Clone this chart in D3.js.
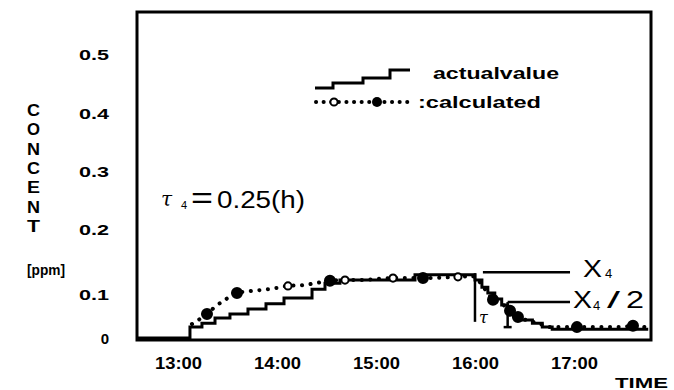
<!DOCTYPE html>
<html><head><meta charset="utf-8">
<script src="https://cdn.jsdelivr.net/npm/d3@7"></script>
<style>body{margin:0;background:#fff}svg{display:block}text{fill:#000}</style>
</head><body><svg id="c" width="674" height="390"></svg>
<script>
// ---- data ----
const xTicks = [13, 14, 15, 16, 17];
const xTickLabels = ["13:00", "14:00", "15:00", "16:00", "17:00"];
const yTicks = [0, 0.1, 0.2, 0.3, 0.4, 0.5];
const yTickLabels = ["0", "0.1", "0.2", "0.3", "0.4", "0.5"];

// actual value (step line), time in hours
const actualTime  = [12.586, 13.121, 13.242, 13.374, 13.525, 13.707, 13.889, 14.071, 14.354, 14.485, 14.636, 15.394,
                     16.0, 16.07, 16.13, 16.2, 16.27, 16.33, 16.39, 16.47, 16.58, 16.68, 16.78, 17.75];
const actualValue = [0.002, 0.027, 0.036, 0.048, 0.057, 0.068, 0.080, 0.093, 0.109, 0.118, 0.123, 0.131,
                     0.123, 0.112, 0.103, 0.091, 0.077, 0.064, 0.052, 0.043, 0.036, 0.027, 0.022, 0.022];

// calculated (dotted line)
const calcTime  = [13.141, 13.293, 13.374, 13.475, 13.596, 13.727, 13.859, 14.0, 14.111, 14.253, 14.384, 14.535,
                   14.687, 14.838, 15.172, 15.475, 15.828, 15.970, 16.030, 16.101, 16.182, 16.273, 16.354, 16.434,
                   16.556, 16.657, 16.758, 16.889, 17.030, 17.192, 17.333, 17.465, 17.596, 17.717];
const calcValue = [0.034, 0.057, 0.073, 0.089, 0.103, 0.106, 0.108, 0.111, 0.114, 0.115, 0.118, 0.122,
                   0.123, 0.123, 0.126, 0.126, 0.128, 0.129, 0.123, 0.109, 0.089, 0.080, 0.064, 0.050,
                   0.041, 0.034, 0.027, 0.027, 0.027, 0.027, 0.027, 0.027, 0.030, 0.027];
const calcMarker = ["", "f", "", "", "f", "", "", "", "o", "", "", "f",
                    "o", "", "o", "f", "o", "", "", "", "f", "", "f", "f",
                    "", "", "", "", "f", "", "", "", "f", ""];

// annotations
const tauStart = 16.0, tauEnd = 16.33;
const x4Level = 0.135, x4HalfLevel = 0.084;
const x4LineStart = 16.08, x4LineEnd = 16.96;
const tauBottom = 0.039, tauEndBottom = 0.027;

// ---- drawing ----
const FONT = "'Liberation Sans', Arial, sans-serif";
const svg = d3.select("#c");
const x = d3.scaleLinear().domain([12.586, 17.778]).range([137, 651]);
const y = d3.scaleLinear().domain([0, 0.1, 0.2, 0.5]).range([339, 295, 230, 55]);

// frame
svg.append("rect").attr("x", 137).attr("y", 12).attr("width", 514).attr("height", 328)
  .attr("fill", "none").attr("stroke", "#000").attr("stroke-width", 3);

// y axis labels
const yAxis = svg.append("g").attr("transform", "translate(137,0)")
  .call(d3.axisLeft(y).tickValues(yTicks).tickFormat((d, i) => yTickLabels[i]).tickSize(0).tickPadding(28));
yAxis.select(".domain").remove();
yAxis.selectAll("text").attr("font-family", FONT).attr("font-weight", "bold").attr("font-size", 15)
  .attr("fill", "#000")
  .each(function (d, i) { const t = yTickLabels[i]; if (t.length > 1) d3.select(this).attr("textLength", 30).attr("lengthAdjust", "spacingAndGlyphs"); });

// x axis labels
const xAxis = svg.append("g").attr("transform", "translate(0,340)")
  .call(d3.axisBottom(x).tickValues(xTicks).tickFormat((d, i) => xTickLabels[i]).tickSize(0).tickPadding(18));
xAxis.select(".domain").remove();
xAxis.selectAll("text").attr("font-family", FONT).attr("font-weight", "bold").attr("font-size", 16)
  .attr("fill", "#000").attr("textLength", 47).attr("lengthAdjust", "spacingAndGlyphs");

svg.append("text").attr("x", 668).attr("y", 388).attr("text-anchor", "end")
  .attr("font-family", FONT).attr("font-weight", "bold").attr("font-size", 15)
  .attr("textLength", 53).attr("lengthAdjust", "spacingAndGlyphs").text("TIME");

// y title (vertical stacked letters)
const yTitle = "CONCENT".split("");
svg.append("g").selectAll("text").data(yTitle).join("text")
  .attr("x", 27).attr("y", (d, i) => 116 + i * 19.3)
  .attr("font-family", FONT).attr("font-weight", "bold").attr("font-size", 16)
  .attr("textLength", 13).attr("lengthAdjust", "spacingAndGlyphs").text(d => d);
svg.append("text").attr("x", 46).attr("y", 275).attr("text-anchor", "middle")
  .attr("font-family", FONT).attr("font-weight", "bold").attr("font-size", 14)
  .attr("textLength", 38).attr("lengthAdjust", "spacingAndGlyphs").text("[ppm]");

// actual value step line
const actual = actualTime.map((t, i) => ({ t, v: actualValue[i] }));
svg.append("path").datum(actual)
  .attr("d", d3.line().x(d => x(d.t)).y(d => y(d.v)).curve(d3.curveStepAfter))
  .attr("fill", "none").attr("stroke", "#000").attr("stroke-width", 3);

// calculated dotted line
const calc = calcTime.map((t, i) => ({ t, v: calcValue[i], m: calcMarker[i] }));
svg.append("path").datum(calc)
  .attr("d", d3.line().x(d => x(d.t)).y(d => y(d.v)).curve(d3.curveMonotoneX))
  .attr("fill", "none").attr("stroke", "#000").attr("stroke-width", 4)
  .attr("stroke-linecap", "round").attr("stroke-dasharray", "0.1 8.5");
svg.append("g").selectAll("circle").data(calc.filter(d => d.m)).join("circle")
  .attr("cx", d => x(d.t)).attr("cy", d => y(d.v))
  .attr("r", d => d.m === "f" ? 5 : 3.6)
  .attr("fill", d => d.m === "f" ? "#000" : "#fff")
  .attr("stroke", "#000").attr("stroke-width", 2);

// tau bracket and X4 lines
const ann = svg.append("g").attr("stroke", "#000").attr("stroke-width", 2.5);
ann.append("line").attr("x1", x(tauStart)).attr("x2", x(tauStart)).attr("y1", y(x4Level) + 1).attr("y2", y(tauBottom));
ann.append("line").attr("x1", x(tauEnd)).attr("x2", x(tauEnd)).attr("y1", y(x4HalfLevel)).attr("y2", y(tauEndBottom));
ann.append("line").attr("x1", x(tauEnd) - 4).attr("x2", x(tauEnd) + 4).attr("y1", y(tauEndBottom)).attr("y2", y(tauEndBottom));
ann.append("line").attr("x1", x(x4LineStart)).attr("x2", x(x4LineEnd)).attr("y1", y(x4Level)).attr("y2", y(x4Level));
ann.append("line").attr("x1", x(tauEnd)).attr("x2", x(x4LineEnd)).attr("y1", y(x4HalfLevel)).attr("y2", y(x4HalfLevel));

svg.append("text").attr("x", x(tauStart) + 4).attr("y", y(tauBottom) + 1)
  .attr("font-family", "'DejaVu Serif', serif").attr("font-style", "italic").attr("font-size", 16).text("τ");

// X4 labels
svg.append("text").attr("x", 583).attr("y", 277).attr("font-family", FONT).attr("font-size", 24)
  .attr("textLength", 19).attr("lengthAdjust", "spacingAndGlyphs").text("X");
svg.append("text").attr("x", 605).attr("y", 278).attr("font-family", FONT).attr("font-size", 13).text("4");
svg.append("text").attr("x", 573).attr("y", 308).attr("font-family", FONT).attr("font-size", 24)
  .attr("textLength", 19).attr("lengthAdjust", "spacingAndGlyphs").text("X");
svg.append("text").attr("x", 593).attr("y", 310).attr("font-family", FONT).attr("font-size", 13).text("4");
svg.append("text").attr("x", 607).attr("y", 308).attr("font-family", FONT).attr("font-size", 24)
  .attr("textLength", 13).attr("lengthAdjust", "spacingAndGlyphs").text("/");
svg.append("text").attr("x", 626).attr("y", 308).attr("font-family", FONT).attr("font-size", 24)
  .attr("textLength", 18).attr("lengthAdjust", "spacingAndGlyphs").text("2");

// tau4 annotation text
svg.append("text").attr("x", 161).attr("y", 206).attr("font-family", "'DejaVu Serif', serif")
  .attr("font-style", "italic").attr("font-size", 20).text("τ");
svg.append("text").attr("x", 181).attr("y", 209).attr("font-family", FONT).attr("font-size", 11).text("4");
svg.append("text").attr("x", 191).attr("y", 208).attr("font-family", FONT).attr("font-size", 30)
  .attr("textLength", 22).attr("lengthAdjust", "spacingAndGlyphs").text("=");
svg.append("text").attr("x", 217).attr("y", 208).attr("font-family", FONT).attr("font-size", 23)
  .attr("textLength", 88).attr("lengthAdjust", "spacingAndGlyphs").text("0.25(h)");

// legend
const leg1 = svg.append("g").attr("transform", "translate(315,70)");
const stepIcon = [[0, 18], [18, 18], [18, 13], [48, 13], [48, 8], [75, 8], [75, 0], [95, 0]];
leg1.append("path").attr("d", d3.line()(stepIcon)).attr("fill", "none").attr("stroke", "#000").attr("stroke-width", 3);
svg.append("text").attr("x", 433).attr("y", 79).attr("font-family", FONT).attr("font-weight", "bold").attr("font-size", 17)
  .attr("textLength", 126).attr("lengthAdjust", "spacingAndGlyphs").text("actualvalue");

const leg2 = svg.append("g").attr("transform", "translate(316,102)");
leg2.append("line").attr("x1", 0).attr("x2", 92).attr("stroke", "#000").attr("stroke-width", 4)
  .attr("stroke-linecap", "round").attr("stroke-dasharray", "0.1 7.5");
leg2.append("circle").attr("cx", 18).attr("r", 3.6).attr("fill", "#fff").attr("stroke", "#000").attr("stroke-width", 2);
leg2.append("circle").attr("cx", 61).attr("r", 5).attr("fill", "#000");
svg.append("text").attr("x", 418).attr("y", 108).attr("font-family", FONT).attr("font-weight", "bold").attr("font-size", 17)
  .attr("textLength", 123).attr("lengthAdjust", "spacingAndGlyphs").text(":calculated");
</script>
</body></html>
